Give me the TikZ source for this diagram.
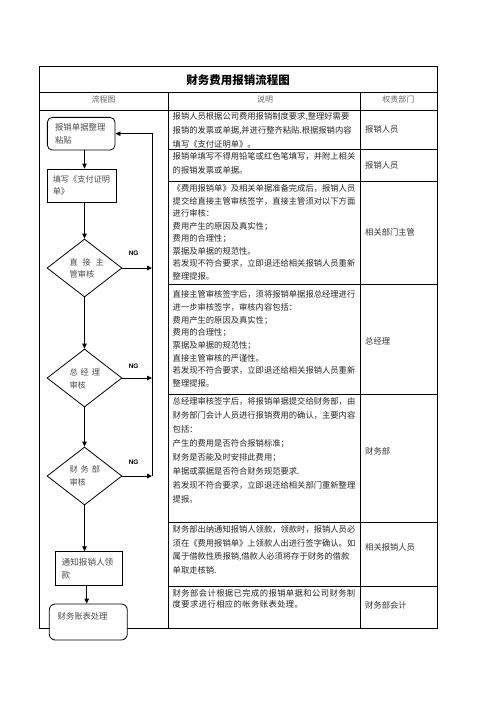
\documentclass[tikz,border=0pt]{standalone}
\usepackage{fontspec}
\setmainfont{Liberation Serif}
\newfontfamily\cjk{Noto Sans CJK SC}
\newfontfamily\cjkwide{Noto Sans CJK SC}[LetterSpace=5]
\newfontfamily\ngfont{Liberation Sans}
\usetikzlibrary{shapes.geometric,arrows.meta}
\begin{document}
\begin{tikzpicture}[x=1pt,y=-1pt,
  frame/.style={line width=1pt},
  gridline/.style={line width=0.7pt},
  flowbox/.style={draw, line width=0.8pt, fill=white, inner ysep=0pt, align=left,
    font=\cjk\fontsize{8.4}{12.5}\selectfont, text=black!70},
  decision/.style={draw, diamond, line width=0.8pt, inner sep=0pt, minimum width=75pt, minimum height=58pt},
  dtext/.style={font=\cjk\fontsize{8.2}{13}\selectfont, text=black!70, align=left, inner sep=0pt, anchor=west},
  desc/.style={text=black!85, align=left, inner sep=0pt, anchor=north west},
  dept/.style={font=\cjk\fontsize{8.3}{10}\selectfont, text=black!80, anchor=west, inner sep=0pt},
  head/.style={font=\cjk\fontsize{8}{10}\selectfont, text=black!60, inner sep=0pt},
  flow/.style={line width=0.8pt, -{Triangle[length=5pt,width=4.5pt]}},
  ng/.style={font=\ngfont\bfseries\fontsize{6.5}{7}\selectfont, inner sep=0pt},
]
\useasboundingbox (0,0) rectangle (496,702);

% ---- table frame ----
\draw[frame] (39.3,66.7) rectangle (437.7,628.3);
\draw[frame] (39.3,92.7) -- (437.7,92.7);
\draw[gridline] (39.3,110) -- (437.7,110);
\draw[gridline] (168.3,92.7) -- (168.3,628.3);
\draw[gridline] (360.7,92.7) -- (360.7,628.3);
\foreach \yy in {149.3,181,284.3,394.3,522.3,586}
  \draw[gridline] (168.3,\yy) -- (437.7,\yy);

% ---- title and headers ----
\node[font=\cjk\bfseries\fontsize{11.5}{13}\selectfont, inner sep=0pt] (title) at (238,79.7) {财务费用报销流程图};
\node[head] (h1) at (103.5,99.5) {流程图};
\node[head] (h2) at (265,99.5) {说明};
\node[head] (h3) at (398.3,99.5) {权责部门};

% ---- description column ----
\node[desc, font=\cjk\fontsize{8.3}{14}\selectfont] (t1) at (172.5,112.6)
 {报销人员根据公司费用报销制度要求,整理好需要\\报销的发票或单据,并进行整齐粘贴.根据报销内容\\填写《支付证明单》。};
\node[desc, font=\cjk\fontsize{8.3}{13.4}\selectfont] (t2) at (172.5,152.6)
 {报销单填写不得用铅笔或红色笔填写，并附上相关\\的报销发票或单据。};
\node[desc, font=\cjk\fontsize{8.3}{12.5}\selectfont] (t3) at (172.5,184.3)
 {《费用报销单》及相关单据准备完成后，报销人员\\提交给直接主管审核签字，直接主管须对以下方面\\进行审核：\\费用产生的原因及真实性；\\费用的合理性；\\票据及单据的规范性。\\若发现不符合要求，立即退还给相关报销人员重新\\整理提报。};
\node[desc, font=\cjk\fontsize{8.3}{12.7}\selectfont] (t4) at (172.5,290.5)
 {直接主管审核签字后，须将报销单据报总经理进行\\进一步审核签字，审核内容包括：\\费用产生的原因及真实性；\\费用的合理性；\\票据及单据的规范性；\\直接主管审核的严谨性。\\若发现不符合要求，立即退还给相关报销人员重新\\整理提报。};
\node[desc, font=\cjk\fontsize{8.3}{14}\selectfont] (t5) at (172.5,397)
 {总经理审核签字后，将报销单据提交给财务部，由\\财务部门会计人员进行报销费用的确认，主要内容\\包括：\\产生的费用是否符合报销标准；\\财务是否能及时安排此费用；\\单据或票据是否符合财务规范要求.\\若发现不符合要求，立即退还给相关部门重新整理\\提报。};
\node[desc, font=\cjk\fontsize{8.3}{13.8}\selectfont] (t6) at (172.5,525)
 {财务部出纳通知报销人领款，领款时，报销人员必\\须在《费用报销单》上领款人出进行签字确认。如\\属于借款性质报销,借款人必须将存于财务的借款\\单取走核销.};
\node[desc, font=\cjkwide\fontsize{8.3}{11.5}\selectfont] (t7) at (172.5,589)
 {财务部会计根据已完成的报销单据和公司财务制\\度要求进行相应的帐务账表处理。};

% ---- department column ----
\node[dept] (p1) at (365,129.3) {报销人员};
\node[dept] (p2) at (365,165) {报销人员};
\node[dept] (p3) at (365,232.7) {相关部门主管};
\node[dept] (p4) at (365,341.7) {总经理};
\node[dept] (p5) at (365,451.7) {财务部};
\node[dept] (p6) at (365,547.7) {相关报销人员};
\node[dept] (p7) at (365,605) {财务部会计};

% ---- flowchart ----
\node[flowbox, rounded corners=5pt, inner xsep=7.7pt, text width=52.3pt, minimum height=32.7pt] (b1) at (81.2,133.7) {报销单据整理\\粘贴};
\node[flowbox, inner xsep=5.4pt, text width=57.9pt, minimum height=33.3pt, font=\cjk\fontsize{8.2}{11.7}\selectfont] (b2) at (81.7,185.7) {填写《支付证明\\单》};
\node[decision] (d1) at (84.5,268) {};
\node[decision] (d2) at (84.5,378) {};
\node[decision] (d3) at (84.5,476) {};
\node[dtext, font=\cjk\fontsize{8.2}{11.7}\selectfont] (d1t) at (69.5,268.2) {直\hspace{4.8pt}接\hspace{4.8pt}主\\管审核};
\node[dtext] (d2t) at (69.3,379) {总\hspace{3pt}经\hspace{3pt}理\\审核};
\node[dtext] (d3t) at (69.3,476) {财\hspace{3pt}务\hspace{3pt}部\\审核};
\node[flowbox, inner xsep=6.4pt, text width=54.6pt, minimum height=34pt, font=\cjk\fontsize{8.6}{13.3}\selectfont] (b4) at (89,568.7) {通知报销人领\\款};
\node[flowbox, rounded corners=6pt, inner xsep=8.4pt, text width=61.2pt, minimum height=36pt, font=\cjk\fontsize{8.3}{12.4}\selectfont] (b5) at (88.3,622) {财务账表处理\\\mbox{}};

\coordinate (rx) at (152,0);
\coordinate (ax) at (86.7,0);

\draw[flow] (d1.north |- b1.south) -- (d1.north |- b2.north);
\draw[flow] (d1.north |- b2.south) -- (d1.north);
\draw[flow] (d1.south) -- (d2.north);
\draw[flow] (d2.south) -- (d3.north);
\draw[flow] (d3.south) -- (d3.south |- b4.north);
\draw[flow] (b4.south -| ax) -- (b5.north -| ax);

\draw[flow] (d1.east) -- node[ng, pos=0.38, yshift=15pt] (ng1) {NG} (d1.east -| rx);
\draw[flow] (d2.east) -- node[ng, pos=0.38, yshift=12pt] (ng2) {NG} (d2.east -| rx);
\draw[flow] (d3.east) -- node[ng, pos=0.38, yshift=14pt] (ng3) {NG} (d3.east -| rx);
\draw[flow] (d3.east -| rx) -- (b1.east -| rx) -- (b1.east);
\end{tikzpicture}
\end{document}
